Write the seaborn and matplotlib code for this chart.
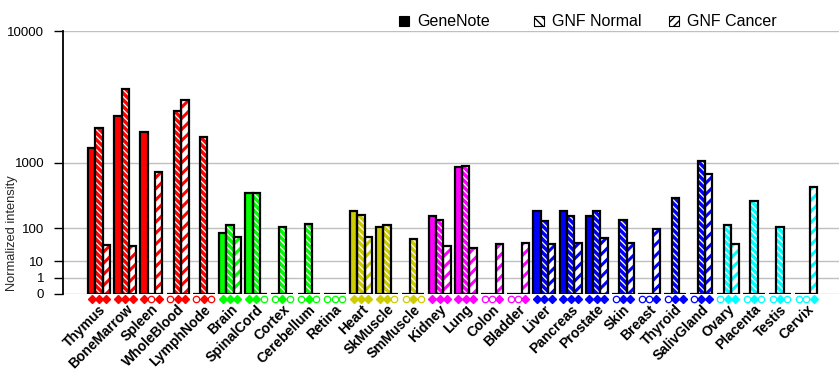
import numpy as np
import pandas as pd
import matplotlib
matplotlib.use("Agg")
import matplotlib.pyplot as plt
import seaborn as sns
from matplotlib.patches import Rectangle
from matplotlib.transforms import blended_transform_factory

# ---------------- data ----------------
tissues = ["Thymus", "BoneMarrow", "Spleen", "WholeBlood", "LymphNode",
           "Brain", "SpinalCord", "Cortex", "Cerebellum", "Retina",
           "Heart", "SkMuscle", "SmMuscle",
           "Kidney", "Lung", "Colon", "Bladder",
           "Liver", "Pancreas", "Prostate", "Skin", "Breast", "Thyroid", "SalivGland",
           "Ovary", "Placenta", "Testis", "Cervix"]
genenote = [1430, 2710, 1980, 0, 0, 80, 410, 0, 0, 0, 213, 108, 0, 180, 880,
            0, 0, 213, 213, 178, 0, 0, 0, 0, 0, 0, 0, 0]
gnf_normal = [2190, 4380, 0, 3020, 1820, 119, 410, 104, 126, 0, 186, 119, 55, 145, 913,
              0, 0, 139, 173, 213, 150, 0, 346, 1043, 119, 322, 104, 0]
gnf_cancer = [38, 34, 770, 3630, 0, 61, 0, 0, 0, 0, 61, 0, 0, 36, 30,
              39, 42, 39, 42, 57, 42, 94, 0, 736, 39, 0, 0, 497]
# detection flags (GeneNote, GNF Normal, GNF Cancer): F = detected, O = not detected
detected = ["FFF", "FFF", "FOF", "OFF", "OFO",
            "FFF", "FFO", "OFO", "OFO", "OOO",
            "FFF", "FFO", "OFO",
            "FFF", "FFF", "OOF", "OOF",
            "FFF", "FFF", "FFF", "OFF", "OOF", "OFF", "OFF",
            "OFF", "OFO", "OFO", "OOF"]
tissue_colors = (["#FF0000"] * 5 + ["#00FF00"] * 5 + ["#CCCC00"] * 3 +
                 ["#FF00FF"] * 4 + ["#0000FF"] * 7 + ["#00FFFF"] * 4)
series = ["GeneNote", "GNF Normal", "GNF Cancer"]
y_ticks = [0, 1, 10, 100, 1000, 10000]

df = pd.concat([
    pd.DataFrame({"tissue": tissues, "value": vals, "series": name})
    for name, vals in zip(series, [genenote, gnf_normal, gnf_cancer])
], ignore_index=True)

# ---------------- style ----------------
sns.set_style("white")
plt.rcParams["font.family"] = ["Liberation Sans", "DejaVu Sans"]
plt.rcParams["hatch.linewidth"] = 1.5

P = np.log10(2.0)


def fwd(v):
    v = np.asarray(v, dtype=float)
    return np.sign(v) * np.abs(v) ** P


def inv(u):
    u = np.asarray(u, dtype=float)
    return np.sign(u) * np.abs(u) ** (1.0 / P)


def set_hlw(patch, lw):
    if hasattr(patch, "set_hatch_linewidth"):
        patch.set_hatch_linewidth(lw)
    patch._hatch_linewidth = lw


fig = plt.figure(figsize=(8.4, 3.85), dpi=100)
ax = fig.add_axes([63 / 840, 91 / 385, 775.5 / 840, 263 / 385])
ax.set_yscale("function", functions=(fwd, inv))

BAR_W = 0.84
sns.barplot(data=df, x="tissue", y="value", hue="series", order=tissues,
            hue_order=series, width=BAR_W, gap=0, errorbar=None, legend=False,
            palette=["black"] * 3, saturation=1, linewidth=0, ax=ax)

sub = BAR_W / 3
for p in list(ax.patches):
    cx = p.get_x() + p.get_width() / 2
    gi = int(round(cx))
    si = int(round((cx - gi) / sub)) + 1
    col = tissue_colors[gi]
    if si == 0:
        p.set_facecolor(col)
        p.set_edgecolor(col)
        p.set_linewidth(0)
    elif si == 1:
        p.set_facecolor(col)
        p.set_edgecolor("white")
        p.set_hatch("\\\\\\\\\\")
        p.set_linewidth(0)
        set_hlw(p, 0.9)
    else:
        p.set_facecolor("white")
        p.set_edgecolor(col)
        p.set_hatch("///")
        p.set_linewidth(0)
        set_hlw(p, 2.2)
    p.set_zorder(2)
    ax.add_patch(Rectangle((p.get_x(), 0), p.get_width(), p.get_height(),
                           fill=False, edgecolor="black", linewidth=1.6, zorder=3))

# detection markers below the axis
trans = blended_transform_factory(ax.transData, ax.transAxes)
for i, flags in enumerate(detected):
    col = tissue_colors[i]
    for j, f in enumerate(flags):
        x = i + (j - 1) * sub
        if f == "F":
            ax.plot([x], [-0.018], marker="D", ms=3.6, color=col, mec=col,
                    transform=trans, clip_on=False, zorder=4)
        else:
            ax.plot([x], [-0.018], marker="o", ms=4.6, mfc="white", mec=col,
                    mew=0.9, transform=trans, clip_on=False, zorder=4)

ax.set_ylim(0, 10000)
ax.set_xlim(-1.374, 28.23)
ax.set_yticks(y_ticks)
ax.set_yticklabels([str(t) for t in y_ticks])
ax.yaxis.set_minor_locator(matplotlib.ticker.NullLocator())
ax.grid(axis="y", color="#C0C0C0", linewidth=1.0)
ax.grid(axis="x", visible=False)
ax.set_axisbelow(True)
for s in ["top", "right", "bottom"]:
    ax.spines[s].set_visible(False)
ax.spines["left"].set_color("black")
ax.spines["left"].set_linewidth(1.3)

ax.tick_params(axis="y", direction="out", length=6.5, width=1, pad=7,
               labelsize=9.5, colors="black", left=True)
ax.tick_params(axis="x", length=0, pad=6, labelsize=10, colors="black")
ax.set_xticks(range(len(tissues)))
ax.set_xticklabels(tissues, rotation=45, ha="right", rotation_mode="anchor",
                   fontweight="bold")
ax.set_xlabel("")
ax.set_ylabel("Normalized intensity", fontsize=9.3)
ax.yaxis.set_label_coords(-0.058, 0.232)

# legend (top)
leg_hatch = [None, "\\\\\\\\", "////"]
for k, name in enumerate(series):
    x0 = 399 + 135 * k
    fc = "black" if k == 0 else "white"
    r = Rectangle((x0 / 840, (385 - 26) / 385), 10 / 840, 10 / 385,
                  transform=fig.transFigure, facecolor=fc, edgecolor="black",
                  hatch=leg_hatch[k], linewidth=0.8)
    if k > 0:
        set_hlw(r, 1.0)
    fig.add_artist(r)
    fig.text((x0 + 18) / 840, (385 - 21) / 385, name, fontsize=11.5,
             va="center", ha="left", color="black")

fig.savefig("out.png", dpi=100)
